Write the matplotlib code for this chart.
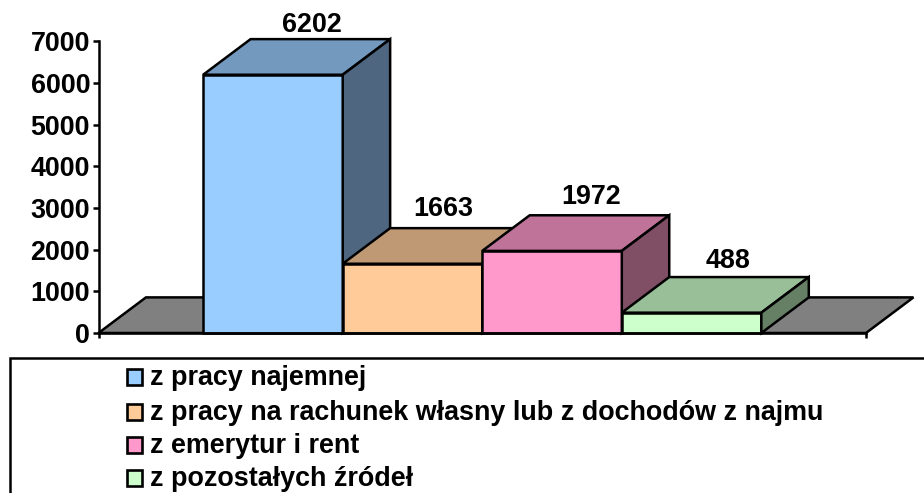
import matplotlib
matplotlib.use("Agg")
import matplotlib.pyplot as plt
from matplotlib.patches import Rectangle

plt.rcParams["font.family"] = ["Liberation Sans", "DejaVu Sans"]
plt.rcParams["font.weight"] = "bold"

# values
categories = ["z pracy najemnej",
              "z pracy na rachunek własny lub z dochodów z najmu",
              "z emerytur i rent",
              "z pozostałych źródeł"]
values = [6202, 1663, 1972, 488]
y_ticks = [0, 1000, 2000, 3000, 4000, 5000, 6000, 7000]

# face colours: front, top, side
front_colors = ["#99CCFF", "#FFCC99", "#FF99CC", "#CCFFCC"]
top_colors = ["#7399BF", "#BF9973", "#BF7399", "#99BF99"]
side_colors = ["#4F6680", "#806650", "#804F66", "#668066"]
floor_color = "#808080"

W, H = 924, 493
fig = plt.figure(figsize=(W / 100, H / 100), dpi=100)

# axes box in pixels
left, right, top, bottom = 98.5, 866, 41.5, 333
ax = fig.add_axes([left / W, 1 - bottom / H, (right - left) / W, (bottom - top) / H])
xlim = (-1.25, 4.25)
ax.set_xlim(xlim)
ax.set_ylim(0, 7000)
ax.patch.set_visible(False)

lw = 1.8
fs = 19.4
depth_x = 0.34
depth_y = 855


def box(x0, x1, h, front, top_c, side):
    # front, top and side faces of one fake 3d bar
    ax.fill([x0, x1, x1, x0], [0, 0, h, h], fc=front, ec="black", lw=lw, clip_on=False, joinstyle="miter")
    ax.fill([x0, x1, x1 + depth_x, x0 + depth_x], [h, h, h + depth_y, h + depth_y],
            fc=top_c, ec="black", lw=lw, clip_on=False, joinstyle="miter")
    ax.fill([x1, x1 + depth_x, x1 + depth_x, x1], [0, depth_y, h + depth_y, h],
            fc=side, ec="black", lw=lw, clip_on=False, joinstyle="miter")


# floor
ax.fill([xlim[0], xlim[1], xlim[1] + depth_x, xlim[0] + depth_x], [0, 0, depth_y, depth_y],
        fc=floor_color, ec="black", lw=lw, clip_on=False, joinstyle="miter")

label_dx = [39, 31, 39, 36]
label_dy = [14, 19, 18, 16]
for i, v in enumerate(values):
    box(i - 0.5, i + 0.5, v, front_colors[i], top_colors[i], side_colors[i])
    ax.annotate(str(v), (i, v + depth_y), xytext=(label_dx[i] * 0.72, label_dy[i] * 0.72),
                textcoords="offset points", ha="center", va="center",
                fontsize=fs, fontweight="bold", annotation_clip=False)

for s in ["top", "right"]:
    ax.spines[s].set_visible(False)
for s in ["left", "bottom"]:
    ax.spines[s].set_linewidth(lw)

ax.set_yticks(y_ticks)
ax.set_xticks(list(xlim))
ax.set_xticklabels([])
ax.tick_params(axis="y", length=4.5, width=lw, labelsize=fs, pad=1.5)
ax.tick_params(axis="x", length=3.6, width=lw)

# legend, the frame runs off the right and bottom of the picture
fig.add_artist(Rectangle((9.5 / W, -0.05), (W + 20) / W, 1.05 - 357.5 / H, transform=fig.transFigure,
                         fc="white", ec="black", lw=lw))
legend_y = [378, 413, 446, 479]
for name, c, y in zip(categories, front_colors, legend_y):
    fig.add_artist(Rectangle((127 / W, 1 - (y + 6.5) / H), 15 / W, 16 / H, transform=fig.transFigure,
                             fc=c, ec="black", lw=1.9))
    fig.text(150 / W, 1 - y / H, name, fontsize=fs, fontweight="bold", va="center", ha="left")

fig.savefig("out.png", dpi=100)
